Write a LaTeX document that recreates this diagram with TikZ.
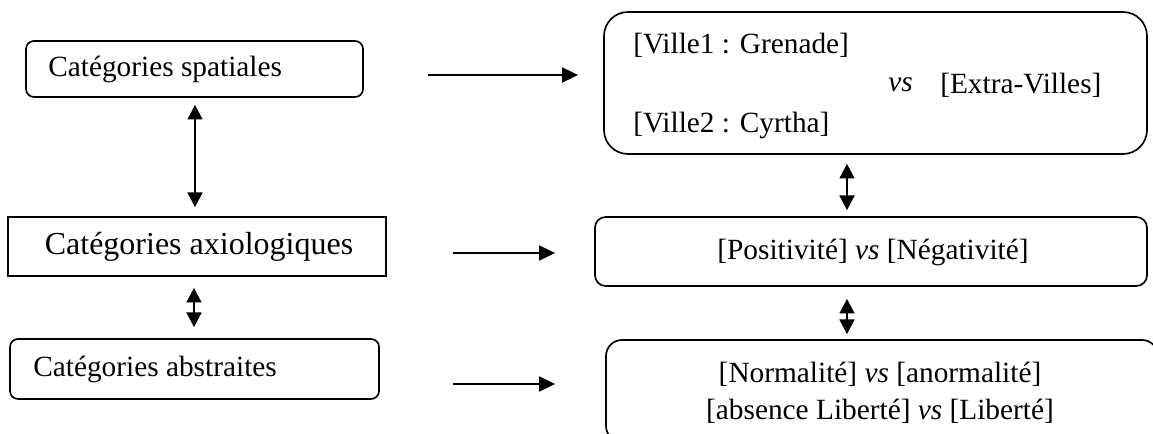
\documentclass[tikz,border=0pt]{standalone}
\usepackage{fontspec}
\setmainfont{Liberation Serif}[
  UprightFont={Liberation Serif},
  ItalicFont={Liberation Serif Italic},
  BoldFont={Liberation Serif Bold}]
\usetikzlibrary{arrows.meta,calc}
\begin{document}
\begin{tikzpicture}[x=0.75pt,y=-0.75pt,
  frame/.style={draw, line width=1.25pt, inner sep=0pt},
  txt/.style={inner sep=0pt, font=\fontsize{22}{26}\selectfont},
  bigtxt/.style={inner sep=0pt, font=\fontsize{24}{28}\selectfont},
  arr/.style={line width=1.9pt, -{Triangle[length=12pt,width=11pt]}},
  dbl/.style={line width=1.9pt, {Triangle[length=11pt,width=11pt]}-{Triangle[length=11pt,width=11pt]}}]
\useasboundingbox (0,0) rectangle (1153,434);
\fill[white] (0,0) rectangle (1153,434);
\clip (0,0) rectangle (1153,434);

% left column
\node[frame, rounded corners=6pt, minimum width=252.75pt, minimum height=42pt] (A) at (194.5,69) {};
\node[txt, anchor=west] (tA) at (48,69) {Catégories spatiales};
\node[frame, minimum width=283.5pt, minimum height=44.25pt] (B) at (197,246.5) {};
\node[bigtxt] (tB) at (199,246.5) {Catégories axiologiques};
\node[frame, rounded corners=6pt, minimum width=276.75pt, minimum height=45pt] (C) at (194.5,369) {};
\node[txt, anchor=west] (tC) at (33,369) {Catégories abstraites};

% right column
\node[frame, rounded corners=18pt, minimum width=407.25pt, minimum height=106.5pt] (R1) at (875.5,83) {};
\node[txt, anchor=west] (r1a) at (633,45) {[Ville1 : Grenade]};
\node[txt, anchor=west] (r1v) at (888,85) {\textit{vs}};
\node[txt, anchor=west] (r1b) at (940,85) {[Extra-Villes]};
\node[txt, anchor=west] (r1c) at (633,125) {[Ville2 : Cyrtha]};
\node[frame, rounded corners=8pt, minimum width=414pt, minimum height=51.75pt] (R2) at (871,251.5) {};
\node[txt] (r2) at (873,252) {[Positivité] \textit{vs} [Négativité]};
\node[frame, rounded corners=12pt, minimum width=414pt, minimum height=76.5pt] (R3) at (882,391) {};
\node[txt] (r3a) at (880,374) {[Normalité] \textit{vs} [anormalité]};
\node[txt] (r3b) at (880,411) {[absence Liberté] \textit{vs} [Liberté]};

% horizontal arrows
\draw[arr] ($(A.east)+(64,6)$) -- ($(R1.west)+(-25,-8)$);
\draw[arr] ($(B.east)+(66,6.5)$) -- ($(R2.west)+(-39,1.5)$);
\draw[arr] ($(C.east)+(73,15)$) -- ($(R3.west)+(-50,-7)$);

% vertical double arrows
\draw[dbl] ($(A.south)+(0.5,7)$) -- ($(B.north)+(-2,-9)$);
\draw[dbl] ($(B.south)+(-3,11)$) -- ($(C.north)+(-0.5,-11)$);
\draw[dbl] ($(R1.south)+(-28.5,9)$) -- ($(R2.north)+(-24,-6)$);
\draw[dbl] ($(R2.south)+(-24,12)$) -- ($(R3.north)+(-35,-5)$);
\end{tikzpicture}
\end{document}
